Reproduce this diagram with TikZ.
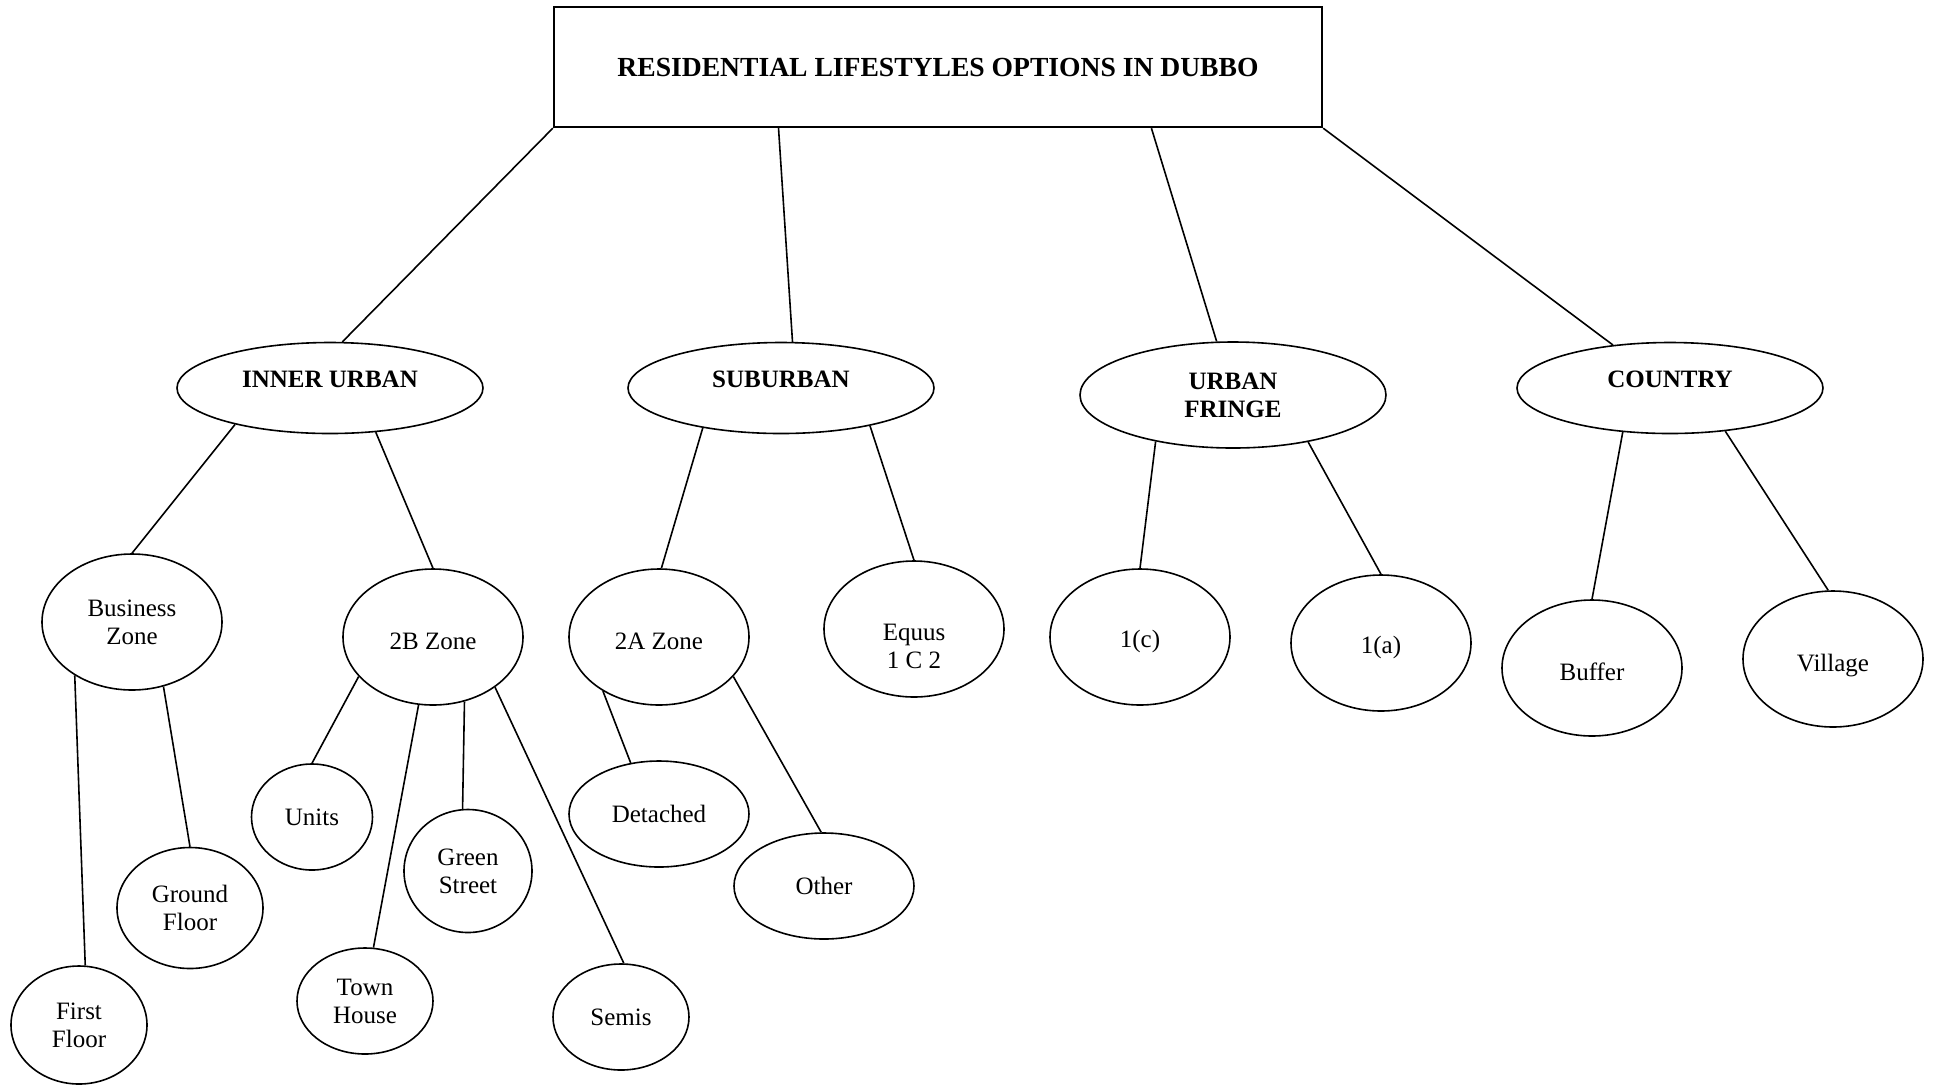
\documentclass[tikz,border=0pt]{standalone}
\usepackage{fontspec}
\setmainfont{Liberation Serif}
\usetikzlibrary{shapes.geometric}

\begin{document}
\begin{tikzpicture}[x=0.5pt,y=-0.5pt,line width=0.8pt,
  every node/.style={font=\fontsize{12.5}{14}\selectfont},
  title node/.style={rectangle,draw,line width=1.2pt,minimum width=384pt,minimum height=60pt,text depth=-3.5pt,font=\fontsize{13.8}{16}\selectfont\bfseries},
  area node/.style={ellipse,draw,inner sep=0pt,align=center,minimum width=153pt,minimum height=45.5pt,text depth=8.5pt,font=\fontsize{12.5}{14}\selectfont\bfseries},
  zone node/.style={ellipse,draw,inner sep=0pt,align=center,minimum width=90pt,minimum height=68pt},
  low text/.style={text height=13pt}]
  \useasboundingbox (0,0) rectangle (1935,1084);
  % top
  \node[title node] (title) at (938,67) {RESIDENTIAL LIFESTYLES OPTIONS IN DUBBO};
  % areas
  \node[area node] (inner) at (330,388) {INNER URBAN};
  \node[area node] (sub) at (781,388) {SUBURBAN};
  \node[area node, minimum height=53pt, text depth=0pt] (fringe) at (1233,395) {URBAN\\FRINGE};
  \node[area node] (country) at (1670,388) {COUNTRY};
  % zones
  \node[zone node] (bz) at (132,622) {Business\\Zone};
  \node[zone node, low text] (z2b) at (433,637) {2B Zone};
  \node[zone node, low text] (z2a) at (659,637) {2A Zone};
  \node[zone node] (equus) at (914,629) {\rule{0pt}{26pt}Equus\\1 C 2};
  \node[zone node, low text] (z1c) at (1140,637) {1(c)};
  \node[zone node, low text] (z1a) at (1381,643) {1(a)};
  \node[zone node, low text] (buffer) at (1592,668) {Buffer};
  \node[zone node, low text, text height=15pt] (village) at (1833,659) {Village};
  % dwellings
  \node[zone node, minimum width=68pt, minimum height=59pt] (first) at (79,1025) {First\\Floor};
  \node[zone node, minimum width=73pt, minimum height=60.5pt] (ground) at (190,908) {Ground\\Floor};
  \node[zone node, minimum width=60.5pt, minimum height=53pt] (units) at (312,817) {Units};
  \node[zone node, minimum width=68pt, minimum height=53pt] (town) at (365,1001) {Town\\House};
  \node[zone node, minimum width=64pt, minimum height=61.5pt] (green) at (468,871) {Green\\Street};
  \node[zone node, minimum width=68pt, minimum height=53pt] (semis) at (621,1017) {Semis};
  \node[zone node, minimum height=53pt] (detached) at (659,814) {Detached};
  \node[zone node, minimum height=53pt] (other) at (824,886) {Other};

  \path[draw]
     (title.south west) -- (inner.75)
     (title.-159) -- (sub.76)
     (title.-16.5) -- (fringe.107)
     (title.south east) -- (country.143)
     (inner.201) -- (bz.90)
     (inner.-44) -- (z2b.90)
     (sub.-153) -- (z2a.88)
     (sub.-23) -- (equus.90)
     (fringe.-149) -- (z1c.90)
     (fringe.-32) -- (z1a.90)
     (country.-137) -- (buffer.90)
     (country.-38) -- (village.94)
     (bz.-137.5) -- (first.84)
     (bz.-64) -- (ground.90)
     (z2b.-152) -- (units.90)
     (z2b.-102) -- (town.81)
     (z2b.-64.5) -- (green.95)
     (z2b.-39) -- (semis.87)
     (z2a.-136) -- (detached.119)
     (z2a.-28) -- (other.93);
\end{tikzpicture}
\end{document}
